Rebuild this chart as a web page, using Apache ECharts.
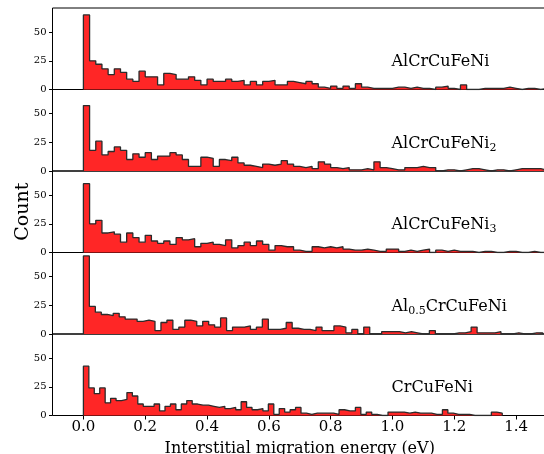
<!DOCTYPE html>
<html>
<head>
<meta charset="utf-8">
<script src="https://cdn.jsdelivr.net/npm/echarts@6/dist/echarts.min.js"></script>
<style>
html,body{margin:0;padding:0;background:#fff;}
#chart{width:544px;height:454px;}
</style>
</head>
<body>
<div id="chart"></div>
<script>
// ---- data ----
const alloys = ['AlCrCuFeNi', 'AlCrCuFeNi2', 'AlCrCuFeNi3', 'Al0.5CrCuFeNi', 'CrCuFeNi'];
const alloyLabels = ['{m|AlCrCuFeNi}', '{m|AlCrCuFeNi}{s|2}', '{m|AlCrCuFeNi}{s|3}', '{m|Al}{s|0.5}{m|CrCuFeNi}', '{m|CrCuFeNi}'];
const binStart = [0, 0, 0, 0, 0];
const binWidth = [0.02, 0.02, 0.02, 0.0193, 0.0176];
const countsAlCrCuFeNi = [65,25,22,18,13,18,15,9,7,16,11,11,4,14,13,9,9,11,8,4,9,7,7,9,7,8,4,7,4,7,8,4,4,
  7,6,5,7,5,2,1,3,1,3,1,5,2,1,1,1,1,2,2,1,2,1,1,0,2,3,1,0,4,0,0,1,1,1,1,2,1,0,1,1,0,1];
const countsAlCrCuFeNi2 = [57,18,26,14,17,21,18,10,15,12,16,10,13,13,16,14,10,4,4,12,11,4,10,9,12,7,5,4,3,6,5,6,9,
  6,4,3,4,2,8,6,3,2,3,1,1,2,1,8,3,2,1,1,3,3,4,3,3,0,1,1,0,1,2,2,1,0,1,1,0,1,2,2,2,2,1];
const countsAlCrCuFeNi3 = [60,25,28,17,18,16,9,17,13,9,15,10,8,10,7,13,11,12,5,8,9,7,6,11,4,6,9,6,10,7,2,6,5,
  5,2,1,1,5,4,5,4,5,3,2,2,3,2,1,1,3,3,1,2,1,2,3,0,2,1,2,1,1,1,0,1,1,0,0,1,1,0,0,1,0,0];
const countsAl05CrCuFeNi = [68,24,19,17,16,18,15,13,13,11,12,11,3,10,12,4,6,12,11,7,11,8,6,14,3,6,6,7,4,6,13,4,4,5,
  10,5,4,4,3,6,3,3,7,6,1,4,0,6,0,0,2,2,2,1,2,1,0,0,3,0,0,0,1,1,2,6,1,1,1,2,0,0,1,0,0,1,1];
const countsCrCuFeNi = [43,24,19,24,11,15,13,14,20,17,10,8,8,10,4,8,10,5,10,13,10,9,9,8,7,8,6,7,5,12,7,5,6,4,10,1,6,
  3,5,7,2,1,2,2,2,2,1,5,4,4,7,1,3,1,0,0,3,3,3,2,3,2,2,2,1,1,5,2,1,1,1,0,0,0,0,3,2];
const allCounts = [countsAlCrCuFeNi, countsAlCrCuFeNi2, countsAlCrCuFeNi3, countsAl05CrCuFeNi, countsCrCuFeNi];
const xTicks = [0, 0.2, 0.4, 0.6, 0.8, 1.0, 1.2, 1.4];
const yTicks = [0, 25, 50];
const xRange = [-0.1, 1.5];
const yMax = 71;

// ---- layout ----
const FONT = 'DejaVu Serif';
const panelTop = 8, panelH = 81.5, plotLeft = 52.5, plotWidth = 494.5;

function stepData(counts, start, w) {
  const pts = [[start, 0]];
  for (let i = 0; i < counts.length; i++) pts.push([start + i * w, counts[i]]);
  pts.push([start + counts.length * w, 0]);
  return pts;
}

const grid = [], xAxis = [], yAxis = [], series = [], graphic = [];
for (let i = 0; i < 5; i++) {
  const last = i === 4;
  grid.push({left: plotLeft, width: plotWidth, top: panelTop + panelH * i, height: panelH,
    outerBoundsMode: 'none', containLabel: false,
    show: true, borderColor: '#000', borderWidth: 1, backgroundColor: 'rgba(0,0,0,0)'});
  xAxis.push({type: 'value', gridIndex: i, min: xRange[0], max: xRange[1],
    axisLine: {show: false, onZero: false}, splitLine: {show: false},
    axisTick: {show: last, customValues: xTicks, length: 4, lineStyle: {color: '#000', width: 1}},
    axisLabel: {show: last, customValues: xTicks, formatter: v => v.toFixed(1),
      fontFamily: FONT, fontSize: 15, color: '#000', margin: 4},
    name: last ? 'Interstitial migration energy (eV)' : '', nameLocation: 'middle', nameGap: 25,
    nameTextStyle: {fontFamily: FONT, fontSize: 16, color: '#000'}});
  yAxis.push({type: 'value', gridIndex: i, min: 0, max: yMax,
    axisLine: {show: false, onZero: false}, splitLine: {show: false},
    axisTick: {show: true, customValues: yTicks, length: 3.5, lineStyle: {color: '#000', width: 1}},
    axisLabel: {customValues: yTicks, fontFamily: FONT, fontSize: 10, color: '#000', margin: 6},
    name: i === 2 ? 'Count' : '', nameLocation: 'middle', nameGap: 20, nameRotate: 90,
    nameMoveOverlap: false,
    nameTextStyle: {fontFamily: FONT, fontSize: 19, color: '#000'}});
  series.push({type: 'line', name: alloys[i], xAxisIndex: i, yAxisIndex: i, step: 'end',
    symbol: 'none', data: stepData(allCounts[i], binStart[i], binWidth[i]),
    lineStyle: {color: '#2b2b2b', width: 1.3}, areaStyle: {color: '#ff2626', opacity: 1},
    animation: false, z: 1});
  graphic.push({type: 'text', x: 391.5, y: panelTop + panelH * i + 54,
    style: {text: alloyLabels[i], align: 'left', verticalAlign: 'middle',
      rich: {m: {fontFamily: FONT, fontSize: 16, fill: '#000', lineHeight: 20},
             s: {fontFamily: FONT, fontSize: 11, fill: '#000', lineHeight: 11, verticalAlign: 'bottom'}}}});
}

const chart = echarts.init(document.getElementById('chart'), null, {renderer: 'canvas'});
chart.setOption({animation: false, backgroundColor: '#fff', grid, xAxis, yAxis, series, graphic});
</script>
</body>
</html>
